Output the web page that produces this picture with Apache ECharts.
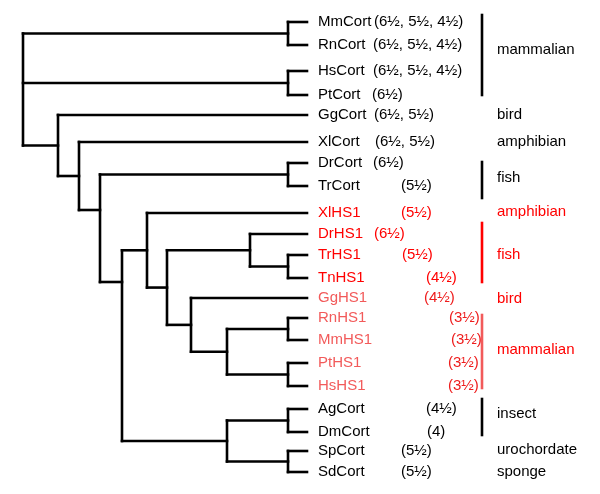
<!DOCTYPE html>
<html><head><meta charset="utf-8">
<script src="https://cdn.jsdelivr.net/npm/echarts@6/dist/echarts.min.js"></script>
<style>html,body{margin:0;padding:0;background:#fff}#c{width:600px;height:494px}</style>
</head><body><div id="c"></div>
<script>
// ---- DATA ----
const leafNames = ['MmCort','RnCort','HsCort','PtCort','GgCort','XlCort','DrCort','TrCort','XlHS1','DrHS1','TrHS1','TnHS1','GgHS1','RnHS1','MmHS1','PtHS1','HsHS1','AgCort','DmCort','SpCort','SdCort'];
const leafNotes = ['(6½, 5½, 4½)','(6½, 5½, 4½)','(6½, 5½, 4½)','(6½)','(6½, 5½)','(6½, 5½)','(6½)','(5½)','(5½)','(6½)','(5½)','(4½)','(4½)','(3½)','(3½)','(3½)','(3½)','(4½)','(4)','(5½)','(5½)'];
// leaf kind: 0 = Cort, 1 = HS1 (fish/amphibian), 2 = HS1 (bird/mammal)
const leafKind = [0,0,0,0,0,0,0,0,1,1,1,1,2,2,2,2,2,0,0,0,0];
// vertical row of each leaf (tree layout, y units)
const leafRow = [22,45,71,95,115,142,163,186,213,234,255,278,298,318,340,363,386,409,432,451,472];
const tipDepth = 307;
// internal nodes: id, depth (x units), children
const nodeIds   = ['root','A','B','C','D','E','F','G','H','I','J','K','L','M','N','O','P','Q','R'];
const nodeDepth = [23,288,288,58,79,100,288,122,147,167,250,288,191,227,288,288,227,288,288];
const nodeChildren = [
  ['A','B','C'], ['MmCort','RnCort'], ['HsCort','PtCort'], ['GgCort','D'], ['XlCort','E'],
  ['F','G'], ['DrCort','TrCort'], ['H','P'], ['XlHS1','I'], ['J','L'], ['DrHS1','K'],
  ['TrHS1','TnHS1'], ['GgHS1','M'], ['N','O'], ['RnHS1','MmHS1'], ['PtHS1','HsHS1'],
  ['Q','R'], ['AgCort','DmCort'], ['SpCort','SdCort']
];
// nodes whose attachment row is not the midpoint of their children
const nodeRowFixed = {E:210, G:282};

const groupNames = ['mammalian','bird','amphibian','fish','amphibian','fish','bird','mammalian','insect','urochordate','sponge'];
const groupFirst = ['MmCort','GgCort','XlCort','DrCort','XlHS1','DrHS1','GgHS1','RnHS1','AgCort','SpCort','SdCort'];
const groupLast  = ['PtCort','GgCort','XlCort','TrCort','XlHS1','TnHS1','GgHS1','HsHS1','DmCort','SpCort','SdCort'];
const groupKind  = [0,0,0,0,1,1,1,2,0,0,0];
const groupBar   = [1,0,0,1,0,1,0,1,1,0,0];

// ---- LAYOUT / STYLE ----
const noteX = [374,373,373,372,374,375,373,401,401,374,402,426,424,449,451,448,448,426,427,401,401];
const labelGap = 11;
const barX = 482, groupLabelX = 497;
const barPadTop = [7,0,0,1,0,11,0,3,10,0,0];
const barPadBot = [0,0,0,12,0,4,0,2,3,0,0];
const groupLabelShift = [-5,0,0,-2,-1,2.5,1,-1.5,-3,-1,0];
const nameColor = ['#000000','#ff0000','#f25a5a'];
const noteColor = ['#000000','#ff0000','#ee1c1c'];
const groupColor = ['#000000','#ff0000','#ff0000'];
const barColor = ['#000000','#ff0000','#f25a5a'];
const FONT = '15px "Liberation Sans", Arial, sans-serif';
const LW = 2.6;

// ---- build tree geometry ----
const pos = {};
leafNames.forEach((n,i)=>{ pos[n] = {x: tipDepth, y: leafRow[i]}; });
function place(id){
  if (pos[id]) return pos[id];
  const k = nodeIds.indexOf(id);
  const ch = nodeChildren[k].map(place);
  const ys = ch.map(c=>c.y);
  const y = (id in nodeRowFixed) ? nodeRowFixed[id] : (Math.min(...ys)+Math.max(...ys))/2;
  pos[id] = {x: nodeDepth[k], y: y};
  return pos[id];
}
place('root');
const segs = [];
nodeIds.forEach((id,k)=>{
  const p = pos[id];
  const ch = nodeChildren[k].map(c=>pos[c]);
  const ys = ch.map(c=>c.y);
  segs.push([p.x, Math.min(...ys), p.x, Math.max(...ys), 0]);
  ch.forEach(c=>segs.push([p.x, c.y, c.x, c.y, 0]));
});
const bars = [];
const groupLabels = [];
groupNames.forEach((g,i)=>{
  const y1 = pos[groupFirst[i]].y, y2 = pos[groupLast[i]].y;
  let cy;
  if (groupBar[i]) {
    const t = y1 - barPadTop[i], b = y2 + barPadBot[i];
    bars.push([barX, t, barX, b, groupKind[i]]);
    cy = (t+b)/2;
  } else cy = (y1+y2)/2;
  groupLabels.push([groupLabelX, cy + groupLabelShift[i], i]);
});
const leafLabelData = leafNames.map((n,i)=>[tipDepth + labelGap, leafRow[i], i]);
const noteData = leafNames.map((n,i)=>[noteX[i], leafRow[i], i]);

function lineRender(colorFn){
  return function(params, api){
    const a = api.coord([api.value(0), api.value(1)]);
    const b = api.coord([api.value(2), api.value(3)]);
    return {type:'line', shape:{x1:a[0],y1:a[1],x2:b[0],y2:b[1]},
      style:{stroke: colorFn(api.value(4)), lineWidth: LW, lineCap:'square'}};
  };
}
function textRender(textFn, colorFn){
  return function(params, api){
    const a = api.coord([api.value(0), api.value(1)]);
    const i = api.value(2);
    return {type:'text', x:a[0], y:a[1],
      style:{text: textFn(i), fill: colorFn(i), font: FONT, align:'left', verticalAlign:'middle'}};
  };
}

const chart = echarts.init(document.getElementById('c'), null, {renderer:'canvas'});
chart.setOption({
  animation:false,
  backgroundColor:'#ffffff',
  grid:{left:0,right:0,top:0,bottom:0},
  xAxis:{type:'value',min:0,max:600,show:false},
  yAxis:{type:'value',min:0,max:494,inverse:true,show:false},
  series:[
    {type:'custom', renderItem: lineRender(()=> '#000000'), data: segs, silent:true},
    {type:'custom', renderItem: lineRender(k=> barColor[k]), data: bars, silent:true},
    {type:'custom', renderItem: textRender(i=>leafNames[i], i=>nameColor[leafKind[i]]), data: leafLabelData, silent:true},
    {type:'custom', renderItem: textRender(i=>leafNotes[i], i=>noteColor[leafKind[i]]), data: noteData, silent:true},
    {type:'custom', renderItem: textRender(i=>groupNames[i], i=>groupColor[groupKind[i]]), data: groupLabels, silent:true}
  ]
});
</script></body></html>
